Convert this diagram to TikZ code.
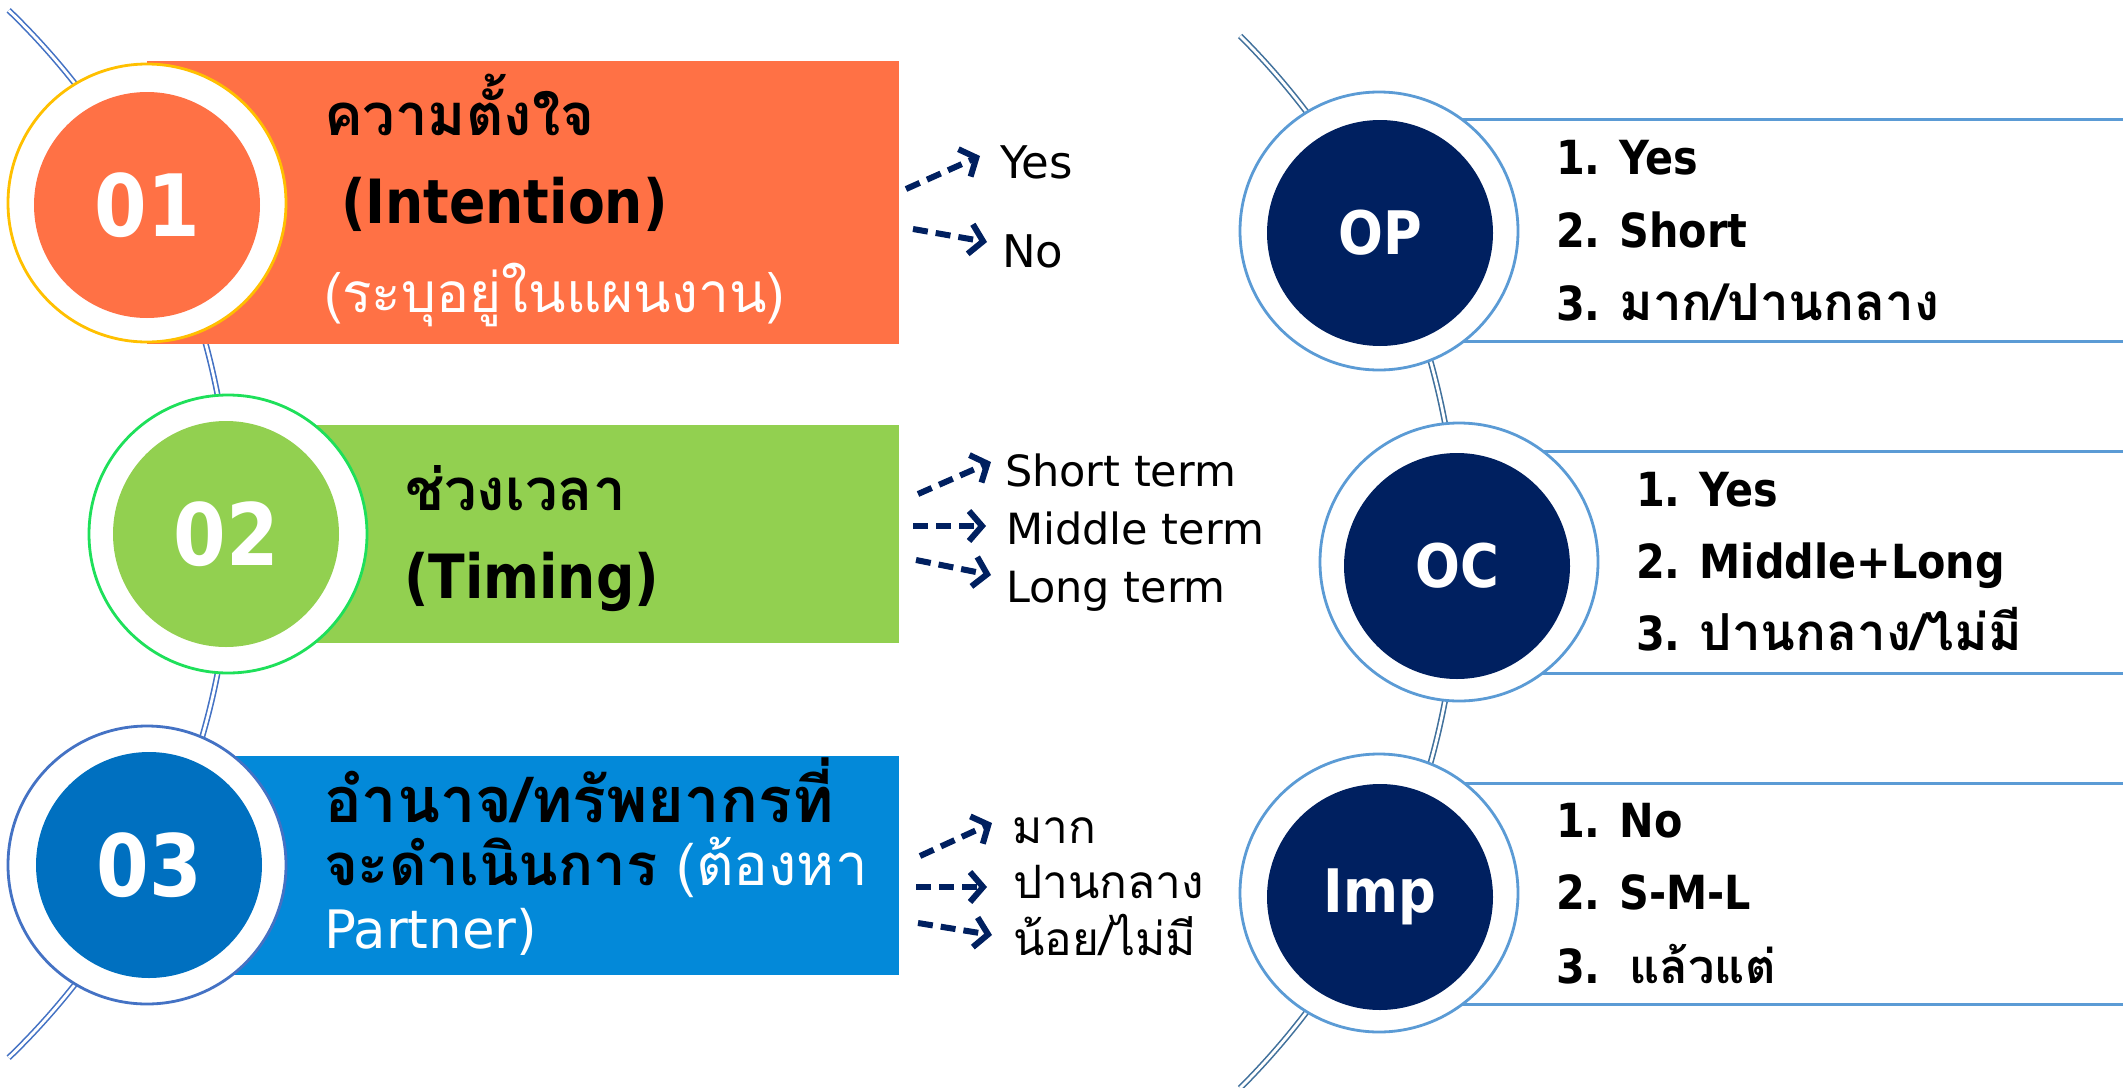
\documentclass[tikz,border=0pt]{standalone}
\usepackage{fontspec}
\setmainfont{DejaVu Sans}
\newfontfamily\thai[Script=Thai]{Loma}
\newfontfamily\cb[FakeStretch=0.88]{DejaVu Sans}
\usetikzlibrary{arrows.meta}
\definecolor{orangeF}{HTML}{FF7145}
\definecolor{goldB}{HTML}{FFC000}
\definecolor{greenF}{HTML}{92D050}
\definecolor{greenB}{HTML}{1EE05A}
\definecolor{blueF}{HTML}{0389D9}
\definecolor{blueI}{HTML}{0070C0}
\definecolor{blueB}{HTML}{4472C4}
\definecolor{navy}{HTML}{002060}
\definecolor{skyB}{HTML}{5B9BD5}
\definecolor{arcR}{HTML}{41719C}
\newcommand{\fs}[1]{\fontsize{#1}{#1}\selectfont}
\newcommand{\thbig}{\thai\bfseries\fs{51}}
\tikzset{
  outerring/.style={circle, minimum size=278pt, inner sep=0, fill=white, line width=2.8pt},
  innerdisc/.style={circle, minimum size=226pt, inner sep=0, text=white},
  txt/.style={anchor=base west, inner sep=0, outer sep=0},
  arcline/.style={line width=1.6pt, double=white, double distance=2.8pt},
  dasharrow/.style={draw=navy, line width=6pt, dash pattern=on 15pt off 8pt,
    -{Straight Barb[length=13pt, width=30pt]}},
  bandline/.style={skyB, line width=3pt},
  numtxt/.style={font=\cb\bfseries\fs{86}},
  codetxt/.style={font=\cb\bfseries\fs{60}},
  ttl/.style={txt, font=\thai\bfseries\fs{58}},
  ttlL/.style={txt, font=\cb\bfseries\fs{61}},
  sub/.style={txt, text=white, font=\thai\fs{55}},
  lbl/.style={txt, font=\fs{45}},
  lblS/.style={txt, font=\fs{43}},
  lblT/.style={txt, font=\thai\fs{46}},
  lst/.style={txt, font=\cb\bfseries\fs{47}},
}
\begin{document}
\begin{tikzpicture}[x=1pt, y=-1pt]
\useasboundingbox (0,0) rectangle (2123,1087);
\fill[white] (0,0) rectangle (2123,1087);

% arcs
\draw[arcline, draw=blueB] (-497,534) ++(-46:728) arc[start angle=-46, end angle=46, radius=728];
\draw[arcline, draw=arcR] (714,562) ++(-45:744) arc[start angle=-45, end angle=45, radius=744];

% left bands
\node[rectangle, fill=orangeF, minimum width=752pt, minimum height=283pt, inner sep=0, anchor=west] (r1) at (147,202.5) {};
\node[rectangle, fill=greenF, minimum width=671pt, minimum height=218pt, inner sep=0, anchor=west] (r2) at (228,534) {};
\node[rectangle, fill=blueF, minimum width=752pt, minimum height=219pt, inner sep=0, anchor=west] (r3) at (147,865.5) {};

% right bands
\draw[bandline] (1379,119) -- (2130,119);
\draw[bandline] (1379,341) -- (2130,341);
\draw[bandline] (1458,451) -- (2130,451);
\draw[bandline] (1458,673) -- (2130,673);
\draw[bandline] (1379,783) -- (2130,783);
\draw[bandline] (1379,1004) -- (2130,1004);

% left circles
\node[outerring, draw=goldB] (c1o) at (147,203) {};
\node[innerdisc, fill=orangeF, numtxt] (c1) at (147,205) {01};
\node[outerring, draw=greenB] (c2o) at (228,534) {};
\node[innerdisc, fill=greenF, numtxt] (c2) at (226,534) {02};
\node[outerring, draw=blueB] (c3o) at (147,865) {};
\node[innerdisc, fill=blueI, numtxt] (c3) at (149,865) {03};

% right circles
\node[outerring, draw=skyB] (opo) at (1379,231) {};
\node[innerdisc, fill=navy, codetxt] (op) at (1380,233) {OP};
\node[outerring, draw=skyB] (oco) at (1459,562) {};
\node[innerdisc, fill=navy, codetxt] (oc) at (1457,566) {OC};
\node[outerring, draw=skyB] (impo) at (1379,893) {};
\node[innerdisc, fill=navy, codetxt] (imp) at (1380,897) {Imp};

% left texts
\node[ttl] (t1a) at (324,135) {ความตั้งใจ};
\node[ttlL] (t1b) at (341,223) {(Intention)};
\node[sub] (t1c) at (324,312) {(ระบุอยู่ในแผนงาน)};
\node[ttl] (t2a) at (405,510) {ช่วงเวลา};
\node[ttlL] (t2b) at (404,598) {(Timing)};
\node[ttl, font=\thai\bfseries\fs{63}] (t3a) at (324,822) {อำนาจ/ทรัพยากรที่};
\node[ttl] (t3b) at (324,885) {จะดำเนินการ\textcolor{white}{\mdseries\ (ต้องหา}};
\node[txt, text=white, font=\fs{53}] (t3c) at (324,948) {Partner)};

% middle labels
\node[lbl] (yes) at (1000,178) {Yes};
\node[lbl] (no) at (1002,267) {No};
\node[lblS] (st) at (1005,486) {Short term};
\node[lblS] (mt) at (1006,544) {Middle term};
\node[lblS] (lt) at (1006,602) {Long term};
\node[lblT] (mak) at (1012,843) {มาก};
\node[lblT] (pan) at (1013,898) {ปานกลาง};
\node[lblT] (noi) at (1013,955) {น้อย/ไม่มี};

% arrows
\coordinate (a1s) at (906,189); \coordinate (a1e) at (980,156);
\coordinate (a2s) at (913,229); \coordinate (a2e) at (987,242);
\coordinate (a3s) at (918,494); \coordinate (a3e) at (991,462);
\coordinate (a4s) at (913,526); \coordinate (a4e) at (986,526);
\coordinate (a5s) at (916,560); \coordinate (a5e) at (991,575);
\coordinate (a6s) at (920,856); \coordinate (a6e) at (992,823);
\coordinate (a7s) at (916,887); \coordinate (a7e) at (987,887);
\coordinate (a8s) at (918,923); \coordinate (a8e) at (992,935);
\foreach \i in {1,...,8} {\draw[dasharrow] (a\i s) -- (a\i e);}

% right lists
\node[lst] (op1) at (1556,174) {1. Yes};
\node[lst] (op2) at (1556,247) {2. Short};
\node[lst] (op3) at (1556,320) {3. {\thbig มาก/ปานกลาง}};
\node[lst] (oc1) at (1636,506) {1. Yes};
\node[lst] (oc2) at (1636,578) {2. Middle+Long};
\node[lst] (oc3) at (1636,650) {3. {\thbig ปานกลาง/ไม่มี}};
\node[lst] (im1) at (1556,837) {1. No};
\node[lst] (im2) at (1556,909) {2. S-M-L};
\node[lst] (im3) at (1556,983) {3.\ \ {\thai\bfseries แล้วแต่}};
\end{tikzpicture}
\end{document}
